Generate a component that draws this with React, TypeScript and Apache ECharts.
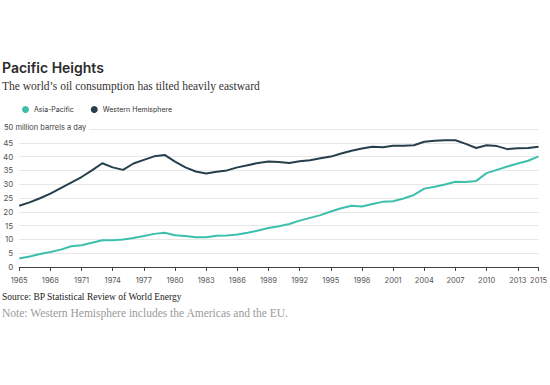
import React, { useEffect, useRef } from "react";
import * as echarts from "echarts";

const years: number[] = Array.from({ length: 51 }, (_, i) => 1965 + i);

const asiaPacific: number[] = [
  3.1, 3.8, 4.7, 5.4, 6.3, 7.5, 7.9, 8.8, 9.7, 9.7,
  10.0, 10.5, 11.2, 12.0, 12.4, 11.5, 11.2, 10.8, 10.8, 11.3,
  11.4, 11.8, 12.4, 13.2, 14.1, 14.8, 15.6, 16.8, 17.8, 18.8,
  20.1, 21.3, 22.2, 21.9, 22.8, 23.6, 23.8, 24.8, 26.1, 28.4,
  29.1, 29.9, 30.9, 30.8, 31.2, 34.0, 35.2, 36.4, 37.5, 38.5,
  40.1,
];

const westernHemisphere: number[] = [
  22.2, 23.4, 24.9, 26.6, 28.6, 30.6, 32.6, 35.0, 37.6, 36.1,
  35.2, 37.5, 38.8, 40.1, 40.6, 38.2, 36.1, 34.6, 33.9, 34.5,
  35.0, 36.1, 36.9, 37.7, 38.2, 38.0, 37.7, 38.3, 38.7, 39.4,
  40.0, 41.1, 42.1, 42.9, 43.6, 43.4, 43.9, 43.9, 44.1, 45.4,
  45.7, 45.9, 45.9, 44.6, 43.1, 44.1, 43.8, 42.7, 43.0, 43.1,
  43.6,
];

const seriesNames: string[] = ["Asia-Pacific", "Western Hemisphere"];
const seriesColors: string[] = ["#3dbfad", "#253f4b"];

const title = "Pacific Heights";
const subtitle = "The world\u2019s oil consumption has tilted heavily eastward";
const unitLabel = "50 million barrels a day";
const source = "Source: BP Statistical Review of World Energy";
const note = "Note: Western Hemisphere includes the Americas and the EU.";

export default function App() {
  const ref = useRef<HTMLDivElement>(null);
  useEffect(() => {
    document.body.style.margin = "0";
    if (!ref.current) return;
    const chart = echarts.init(ref.current, undefined, { renderer: "svg" });
    const sans = "Inter, 'Noto Sans', sans-serif";
    const serif = "'Liberation Serif', 'DejaVu Serif', serif";
    const allSeries = [asiaPacific, westernHemisphere];
    chart.setOption({
      animation: false,
      backgroundColor: "#ffffff",
      title: [
        {
          text: title,
          left: 2,
          top: 60,
          padding: 0,
          textStyle: { fontFamily: sans, fontSize: 14, fontWeight: 600, color: "#2b2b2b" },
        },
        {
          text: subtitle,
          left: 2,
          top: 80,
          padding: 0,
          textStyle: { fontFamily: serif, fontSize: 11.5, fontWeight: "normal", color: "#333333" },
        },
      ],
      legend: {
        top: 106,
        left: 22,
        padding: 0,
        icon: "circle",
        itemWidth: 7,
        itemHeight: 7,
        itemGap: 17,
        textStyle: { fontFamily: sans, fontSize: 7, color: "#333333" },
        data: seriesNames,
      },
      grid: { left: 18, right: 9, top: 129, bottom: 118, containLabel: false },
      xAxis: {
        type: "value",
        min: 1965,
        max: 2015,
        interval: 3,
        splitLine: { show: false },
        axisLine: { show: true, lineStyle: { color: "#444444", width: 1 } },
        axisTick: { show: true, length: 4, lineStyle: { color: "#444444" } },
        axisLabel: {
          fontFamily: sans,
          fontSize: 7.5,
          color: "#555555",
          margin: 9,
          formatter: (v: number) => String(v),
          showMinLabel: true,
          showMaxLabel: true,
        },
      },
      yAxis: {
        type: "value",
        min: 0,
        max: 50,
        interval: 5,
        axisLine: { show: false },
        axisTick: { show: false },
        splitLine: { show: true, lineStyle: { color: "#e8e8e8", width: 1 } },
        axisLabel: {
          fontFamily: sans,
          fontSize: 8,
          color: "#555555",
          margin: 6,
          formatter: (v: number) => (v === 50 ? "" : String(v)),
        },
      },
      series: seriesNames.map((name, i) => ({
        name,
        type: "line",
        showSymbol: false,
        symbol: "circle",
        color: seriesColors[i],
        lineStyle: { width: 2, color: seriesColors[i] },
        data: years.map((y, j) => [y, allSeries[i][j]]),
      })),
      graphic: [
        {
          type: "text",
          left: 4,
          top: 123,
          z: 100,
          style: {
            text: unitLabel,
            fontFamily: sans,
            fontSize: 7.5,
            fill: "#444444",
            backgroundColor: "#ffffff",
            padding: [0, 3, 1, 0],
          },
        },
        {
          type: "text",
          left: 2,
          top: 292,
          style: { text: source, fontFamily: serif, fontSize: 9.5, fontWeight: "normal", fill: "#222222" },
        },
        {
          type: "text",
          left: 2,
          top: 307,
          style: { text: note, fontFamily: serif, fontSize: 11.5, fill: "#9a9a9a" },
        },
      ],
    });
    return () => chart.dispose();
  }, []);
  return <div ref={ref} style={{ width: 550, height: 385 }} />;
}
